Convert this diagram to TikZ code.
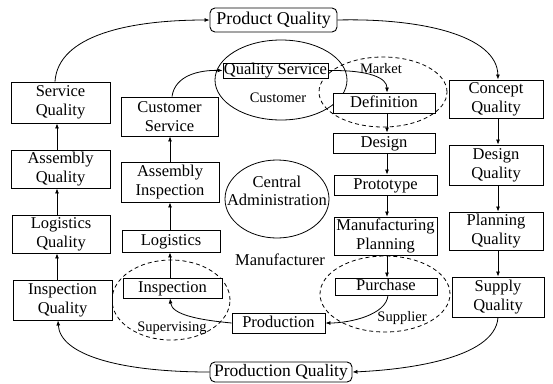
\documentclass[tikz,border=0pt]{standalone}
\usepackage{fontspec}
\setmainfont{Liberation Serif}
\usetikzlibrary{arrows.meta,shapes.geometric}
\begin{document}
\begin{tikzpicture}[x=1pt,y=-1pt,
  box/.style={draw, line width=0.9pt, fill=white, inner sep=0pt, align=center, font=\fontsize{16.5}{19}\selectfont},
  boxone/.style={box, text height=11.5pt, text depth=3.5pt},
  rbox/.style={draw, line width=0.9pt, fill=white, inner sep=0pt, rounded corners=5pt, font=\fontsize{18}{20}\selectfont, text height=12.5pt, text depth=4pt},
  arr/.style={line width=0.8pt, -{Latex[length=5pt,width=4pt]}},
  region/.style={draw, ellipse, line width=0.8pt, inner sep=0pt},
  dregion/.style={region, dash pattern=on 4pt off 3pt},
  lab/.style={font=\fontsize{14.5}{16}\selectfont, inner sep=0pt},
  biglab/.style={font=\fontsize{16.5}{18}\selectfont, inner sep=0pt, align=center},
]
\useasboundingbox (0,0) rectangle (553,383);

% regions
\node[region, minimum width=132pt, minimum height=80pt] (cust) at (281,80) {};
\node[dregion, minimum width=128pt, minimum height=70pt] (mkt) at (383,92) {};
\node[dregion, minimum width=130pt, minimum height=76pt] (supl) at (385,294) {};
\node[dregion, minimum width=118pt, minimum height=80pt] (supv) at (171,300) {};
\node[region, minimum width=104pt, minimum height=78pt] (cadm) at (277,199) {};

% labels
\node[lab] (lcust) at (278,98) {Customer};
\node[lab] (lmkt) at (381,69) {Market};
\node[lab] (lsupl) at (402,318) {Supplier};
\node[lab] (lsupv) at (172,328) {Supervising};
\node[biglab] (lman) at (280,260) {Manufacturer};
\node[biglab] (lcadm) at (277,191) {Central\\Administration};

% top / bottom
\node[rbox, minimum width=127pt, minimum height=24pt] (PQ) at (273.5,20) {Product Quality};
\node[rbox, minimum width=142pt, minimum height=20pt, font=\fontsize{17.5}{20}\selectfont] (PrQ) at (281,372) {Production Quality};

% left column
\node[box, minimum width=99pt, minimum height=41pt] (SQ) at (60.5,102.5) {Service\\Quality};
\node[box, minimum width=99pt, minimum height=38pt] (AQ) at (60.5,169) {Assembly\\Quality};
\node[box, minimum width=98pt, minimum height=38pt] (LQ) at (61,234) {Logistics\\Quality};
\node[box, minimum width=99pt, minimum height=40pt] (IQ) at (62.5,300) {Inspection\\Quality};

% second column
\node[box, minimum width=97pt, minimum height=39pt] (CS) at (169.5,116.5) {Customer\\Service};
\node[box, minimum width=98pt, minimum height=40pt] (AI) at (170,182) {Assembly\\Inspection};
\node[boxone, minimum width=98pt, minimum height=22pt] (Log) at (171,241) {Logistics};
\node[boxone, minimum width=99pt, minimum height=20pt] (Insp) at (172.5,288) {Inspection};
\node[boxone, minimum width=93pt, minimum height=20pt] (Prod) at (278.5,323) {Production};

% centre-right column
\node[boxone, minimum width=105pt, minimum height=15pt] (QS) at (275.5,70.5) {Quality Service};
\node[boxone, minimum width=102pt, minimum height=20pt] (Def) at (384,103) {Definition};
\node[boxone, minimum width=102pt, minimum height=20pt] (Des) at (384,143) {Design};
\node[boxone, minimum width=103pt, minimum height=20pt] (Proto) at (385.5,185) {Prototype};
\node[box, minimum width=103pt, minimum height=38pt] (MP) at (385.5,236) {Manufacturing\\Planning};
\node[boxone, minimum width=102pt, minimum height=17pt] (Pur) at (386,286.5) {Purchase};

% right column
\node[box, minimum width=94pt, minimum height=38pt] (CQ) at (496,99) {Concept\\Quality};
\node[box, minimum width=94pt, minimum height=40pt] (DQ) at (496,165) {Design\\Quality};
\node[box, minimum width=94pt, minimum height=38pt] (PlQ) at (496,231) {Planning\\Quality};
\node[box, minimum width=92pt, minimum height=40pt] (SupQ) at (498,297) {Supply\\Quality};

% x positions of vertical connectors
\coordinate (xL) at (57,0);
\coordinate (xM) at (170,0);
\coordinate (xC) at (387,0);
\coordinate (xR) at (498,0);

% vertical connectors
\draw[arr] (IQ.north -| xL) -- (LQ.south -| xL);
\draw[arr] (LQ.north -| xL) -- (AQ.south -| xL);
\draw[arr] (AQ.north -| xL) -- (SQ.south -| xL);

\draw[arr] (Insp.north -| xM) -- (Log.south -| xM);
\draw[arr] (Log.north -| xM) -- (AI.south -| xM);
\draw[arr] (AI.north -| xM) -- (CS.south -| xM);

\draw[arr] (Def.south -| xC) -- (Des.north -| xC);
\draw[arr] (Des.south -| xC) -- (Proto.north -| xC);
\draw[arr] (Proto.south -| xC) -- (MP.north -| xC);
\draw[arr] (MP.south -| xC) -- (Pur.north -| xC);

\draw[arr] (CQ.south -| xR) -- (DQ.north -| xR);
\draw[arr] (DQ.south -| xR) -- (PlQ.north -| xR);
\draw[arr] (PlQ.south -| xR) -- (SupQ.north -| xR);

% curved connectors
\draw[arr] (SQ.north -| 55,0) .. controls (58,35) and (130,20) .. (PQ.west);
\draw[arr] (PQ.east) .. controls (420,18) and (497,35) .. (CQ.north -| xR);
\draw[arr] (CS.north -| 172,0) .. controls (175,75) and (200,70) .. (QS.west);
\draw[arr] (QS.east) .. controls (370,70) and (387,78) .. (Def.north -| xC);
\draw[arr] (Pur.south -| 388,0) .. controls (386,315) and (350,323) .. (Prod.east);
\draw[arr] (Prod.west) .. controls (200,320) and (172,315) .. (Insp.south -| xM);
\draw[arr] (SupQ.south -| xR) .. controls (495,360) and (400,370) .. (PrQ.east);
\draw[arr] (PrQ.west) .. controls (120,372) and (60,355) .. (IQ.south -| 58,0);
\end{tikzpicture}
\end{document}
